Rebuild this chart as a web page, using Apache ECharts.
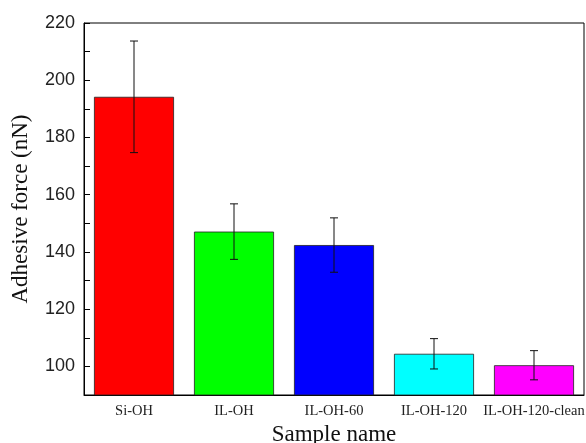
<!DOCTYPE html>
<html>
<head>
<meta charset="utf-8">
<script src="https://cdn.jsdelivr.net/npm/echarts@6/dist/echarts.min.js"></script>
<style>
html,body{margin:0;padding:0;background:#fff;}
#chart{width:586px;height:443px;}
</style>
</head>
<body>
<div id="chart"></div>
<script>
// Adhesive force per sample, with standard deviation
var samples = ['Si-OH', 'IL-OH', 'IL-OH-60', 'IL-OH-120', 'IL-OH-120-clean'];
var forces = [194.2, 147.1, 142.4, 104.4, 100.4];
var errors = [19.5, 9.7, 9.5, 5.3, 5.1];
var barColors = ['#ff0000', '#00ff00', '#0000ff', '#00ffff', '#ff00ff'];

var chart = echarts.init(document.getElementById('chart'));

var errorData = samples.map(function (s, i) {
  return [i, forces[i] - errors[i], forces[i] + errors[i]];
});

chart.setOption({
  animation: false,
  grid: {
    left: 84, right: 2, top: 23, bottom: 48,
    outerBoundsMode: 'none',
    containLabel: false,
    show: true, borderColor: '#000', borderWidth: 1
  },
  xAxis: {
    type: 'category',
    data: samples,
    name: 'Sample name',
    nameLocation: 'middle',
    nameGap: 23,
    nameTextStyle: { fontFamily: 'Liberation Serif', fontSize: 23, color: '#111' },
    axisLine: { lineStyle: { color: '#000', width: 1 } },
    axisTick: { inside: true, length: 4, lineStyle: { color: '#000' } },
    axisLabel: { interval: 0, fontFamily: 'Liberation Serif', fontSize: 14.5, color: '#222', margin: 9 }
  },
  yAxis: {
    type: 'value',
    min: 90, max: 220, interval: 10,
    name: 'Adhesive force (nN)',
    nameLocation: 'middle',
    nameGap: 52,
    nameTextStyle: { fontFamily: 'Liberation Serif', fontSize: 23, color: '#111' },
    splitLine: { show: false },
    axisLine: { show: true, lineStyle: { color: '#000', width: 1 } },
    axisTick: { show: true, inside: true, length: 6, lineStyle: { color: '#000' } },
    axisLabel: {
      fontFamily: 'Liberation Sans', fontSize: 18, color: '#222', margin: 9,
      formatter: function (v) { return v % 20 === 0 ? String(v) : ''; }
    }
  },
  series: [
    {
      type: 'bar',
      barWidth: 80,
      data: forces.map(function (v, i) {
        return { value: v, itemStyle: { color: barColors[i], borderColor: '#222', borderWidth: 0.8 } };
      })
    },
    {
      type: 'custom',
      data: errorData,
      z: 10,
      renderItem: function (params, api) {
        var x = api.value(0);
        var lo = api.coord([x, api.value(1)]);
        var hi = api.coord([x, api.value(2)]);
        var half = 4;
        var style = { stroke: '#111', lineWidth: 1 };
        return {
          type: 'group',
          children: [
            { type: 'line', shape: { x1: hi[0], y1: hi[1], x2: lo[0], y2: lo[1] }, style: style },
            { type: 'line', shape: { x1: hi[0] - half, y1: hi[1], x2: hi[0] + half, y2: hi[1] }, style: style },
            { type: 'line', shape: { x1: lo[0] - half, y1: lo[1], x2: lo[0] + half, y2: lo[1] }, style: style }
          ]
        };
      }
    }
  ]
});
</script>
</body>
</html>
